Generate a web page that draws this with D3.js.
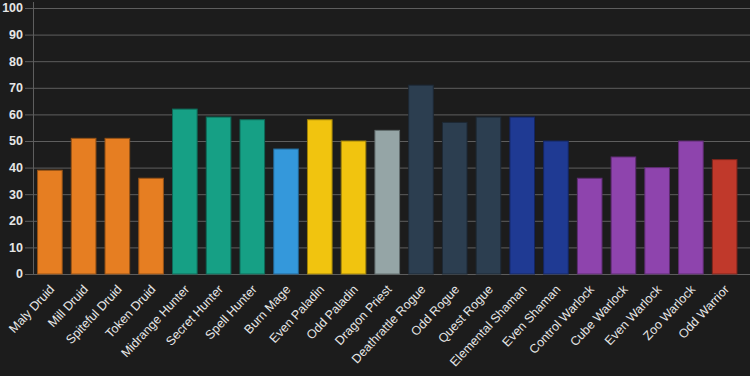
<!DOCTYPE html>
<html>
<head>
<meta charset="utf-8">
<script src="https://cdn.jsdelivr.net/npm/d3@7"></script>
<style>
  body { margin: 0; background: #1c1c1c; }
  svg { display: block; font-family: "Liberation Sans", Arial, sans-serif; }
</style>
</head>
<body>
<div id="chart"></div>
<script>
// DATA
var decks = ["Maly Druid", "Mill Druid", "Spiteful Druid", "Token Druid",
  "Midrange Hunter", "Secret Hunter", "Spell Hunter", "Burn Mage",
  "Even Paladin", "Odd Paladin", "Dragon Priest", "Deathrattle Rogue",
  "Odd Rogue", "Quest Rogue", "Elemental Shaman", "Even Shaman",
  "Control Warlock", "Cube Warlock", "Even Warlock", "Zoo Warlock", "Odd Warrior"];
var winrates = [39, 51, 51, 36, 62, 59, 58, 47, 58, 50, 54, 71, 57, 59, 59, 50, 36, 44, 40, 50, 43];
var classes = ["Druid", "Druid", "Druid", "Druid", "Hunter", "Hunter", "Hunter", "Mage",
  "Paladin", "Paladin", "Priest", "Rogue", "Rogue", "Rogue", "Shaman", "Shaman",
  "Warlock", "Warlock", "Warlock", "Warlock", "Warrior"];
var yTicks = [0, 10, 20, 30, 40, 50, 60, 70, 80, 90, 100];

// CLASS COLOURS
var classColor = {
  Druid: "#e67e22", Hunter: "#16a085", Mage: "#3498db", Paladin: "#f1c40f",
  Priest: "#95a5a6", Rogue: "#2c3e50", Shaman: "#1f3a93", Warlock: "#8e44ad", Warrior: "#c0392b"
};

var width = 750, height = 376;
var plotLeft = 33, plotRight = 741.5, plotTop = 8, plotBottom = 274;

var svg = d3.select("#chart").append("svg")
  .attr("width", width)
  .attr("height", height);

var x = d3.scaleBand()
  .domain(decks)
  .range([plotLeft, plotRight])
  .paddingInner(0.27)
  .paddingOuter(0.135);

var y = d3.scaleLinear()
  .domain([0, 100])
  .range([plotBottom, plotTop]);

// GRID
svg.append("g")
  .selectAll("line")
  .data(yTicks)
  .enter()
  .append("line")
  .attr("x1", plotLeft - 8)
  .attr("x2", width)
  .attr("y1", function(d) { return y(d) + 0.5; })
  .attr("y2", function(d) { return y(d) + 0.5; })
  .attr("stroke", "#5e5e5e")
  .attr("stroke-width", 1);

// Y AXIS LINE
svg.append("line")
  .attr("x1", plotLeft + 0.5).attr("x2", plotLeft + 0.5)
  .attr("y1", 2).attr("y2", plotBottom + 1)
  .attr("stroke", "#5e5e5e");

// Y TICK LABELS
svg.append("g")
  .selectAll("text")
  .data(yTicks)
  .enter()
  .append("text")
  .attr("x", 23)
  .attr("y", function(d) { return y(d); })
  .attr("dy", "0.35em")
  .attr("text-anchor", "end")
  .attr("fill", "#e6e6e6")
  .style("font-size", "12.5px")
  .style("font-weight", "bold")
  .text(function(d) { return d; });

// BARS
svg.append("g")
  .selectAll("rect")
  .data(decks)
  .enter()
  .append("rect")
  .attr("x", function(d) { return x(d); })
  .attr("width", x.bandwidth())
  .attr("y", function(d, i) { return y(winrates[i]); })
  .attr("height", function(d, i) { return y(0) - y(winrates[i]); })
  .attr("fill", function(d, i) { return classColor[classes[i]]; })
  .attr("stroke", function(d, i) { return d3.color(classColor[classes[i]]).darker(1.2); })
  .attr("stroke-width", 1);

// X LABELS
svg.append("g")
  .selectAll("text")
  .data(decks)
  .enter()
  .append("text")
  .attr("transform", function(d) {
    return "translate(" + (x(d) + x.bandwidth() / 2 + 2) + "," + (plotBottom + 13) + ") rotate(-47)";
  })
  .attr("text-anchor", "end")
  .attr("dy", "0.35em")
  .attr("fill", "#e6e6e6")
  .style("font-size", "12.5px")
  .text(function(d) { return d; });
</script>
</body>
</html>
